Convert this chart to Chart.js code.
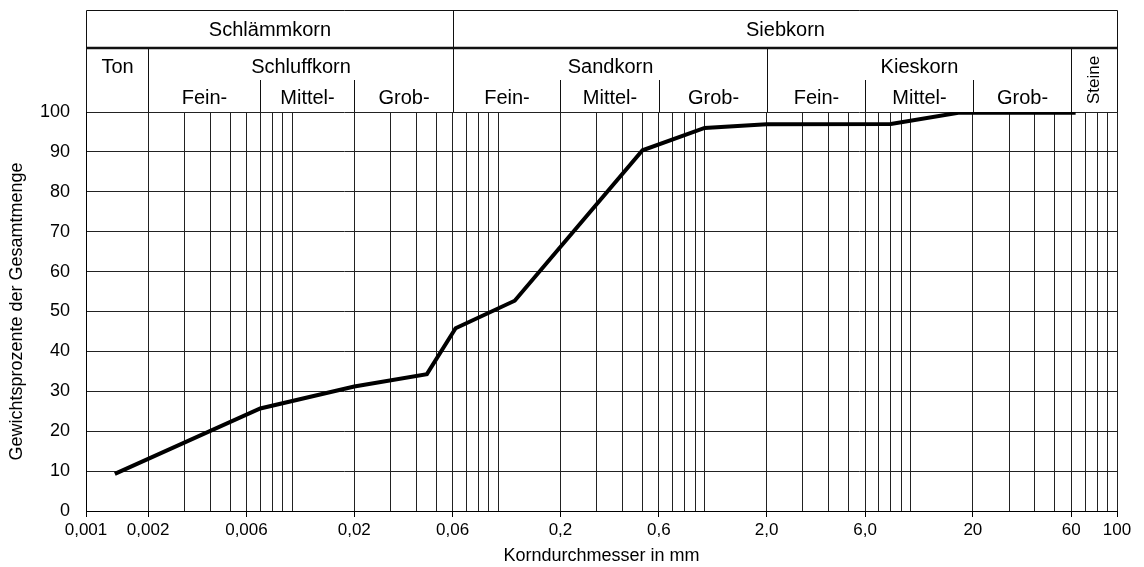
<!DOCTYPE html>
<html>
<head>
<meta charset="utf-8">
<script src="https://cdn.jsdelivr.net/npm/chart.js@4.4.1/dist/chart.umd.min.js"></script>
<style>
  html, body { margin: 0; padding: 0; background: #fff; }
  #wrap { width: 1144px; height: 567px; }
</style>
</head>
<body>
<div id="wrap"><canvas id="grainChart" width="1144" height="567"></canvas></div>
<script>
// Sieblinie: Korndurchmesser (mm) gegen Siebdurchgang (%)
const grainSize = [0.00138, 0.007, 0.02, 0.045, 0.062, 0.12, 0.5, 1.0, 2.0, 8.0, 17, 63];
const passing = [9.3, 25.7, 31.2, 34.3, 45.8, 52.7, 90.4, 96.0, 96.9, 97.0, 99.8, 99.8];

// labelled x ticks
const xTickValues = [0.001, 0.002, 0.006, 0.02, 0.06, 0.2, 0.6, 2, 6, 20, 60, 100];
const xTickLabels = ['0,001', '0,002', '0,006', '0,02', '0,06', '0,2', '0,6', '2,0', '6,0', '20', '60', '100'];

// vertical grid lines (log paper)
const xGridValues = [
    0.001, 0.002, 0.003, 0.004, 0.005, 0.006, 0.007, 0.008, 0.009,
    0.01, 0.02, 0.03, 0.04, 0.05, 0.06, 0.07, 0.08, 0.09,
    0.1, 0.2, 0.3, 0.4, 0.5, 0.6, 0.7, 0.8, 0.9,
    1, 2, 3, 4, 5, 6, 7, 8, 9,
    10, 20, 30, 40, 50, 60, 70, 80, 90, 100
];

// header table: top row, main soil types, sub-classes
const groupNames = ['Schlämmkorn', 'Siebkorn'];
const groupBounds = [0.001, 0.06, 100];
const typeNames = ['Ton', 'Schluffkorn', 'Sandkorn', 'Kieskorn', 'Steine'];
const typeBounds = [0.001, 0.002, 0.06, 2, 60, 100];
const subNames = ['Fein-', 'Mittel-', 'Grob-', 'Fein-', 'Mittel-', 'Grob-', 'Fein-', 'Mittel-', 'Grob-'];
const subBounds = [
    [0.002, 0.007], [0.007, 0.02], [0.02, 0.06],
    [0.06, 0.2], [0.2, 0.6], [0.6, 2],
    [2, 6], [6, 20], [20, 60]
];

const FONT = "'Liberation Sans', Arial, sans-serif";

function sameValue(a, b) {
    return Math.abs(Math.log10(a) - Math.log10(b)) < 1e-6;
}

function labelFor(value) {
    for (let i = 0; i < xTickValues.length; i++) {
        if (sameValue(value, xTickValues[i])) return xTickLabels[i];
    }
    return '';
}

const headerPlugin = {
    id: 'header',
    afterDraw(chart) {
        const ctx = chart.ctx;
        const xs = chart.scales.x;
        const area = chart.chartArea;
        const px = v => Math.round(xs.getPixelForValue(v)) + 0.5;
        const yTop = 10.5, yMid = 48, ySub = 80, yBot = area.top;
        const left = px(0.001), right = px(100);

        ctx.save();
        ctx.strokeStyle = '#111';
        ctx.lineWidth = 1;

        function vline(x, y1, y2) {
            ctx.beginPath();
            ctx.moveTo(x, y1);
            ctx.lineTo(x, y2);
            ctx.stroke();
        }

        // outer frame
        ctx.beginPath();
        ctx.moveTo(left, yTop);
        ctx.lineTo(right, yTop);
        ctx.stroke();
        vline(left, yTop, yBot);
        vline(right, yTop, yBot);

        // heavy rule under top row
        ctx.lineWidth = 2.5;
        ctx.beginPath();
        ctx.moveTo(left, yMid);
        ctx.lineTo(right, yMid);
        ctx.stroke();
        ctx.lineWidth = 1;

        // group divider goes through both rows
        vline(px(groupBounds[1]), yTop, yBot);
        // soil type dividers
        for (let i = 1; i < typeBounds.length - 1; i++) {
            if (typeBounds[i] === groupBounds[1]) continue;
            vline(px(typeBounds[i]), yMid, yBot);
        }
        // sub-class dividers
        subBounds.forEach(b => {
            if (!typeBounds.includes(b[1])) vline(px(b[1]), ySub, yBot);
        });

        ctx.fillStyle = '#000';
        ctx.textAlign = 'center';
        ctx.textBaseline = 'middle';
        ctx.font = '20px ' + FONT;

        groupNames.forEach((name, i) => {
            const cx = (px(groupBounds[i]) + px(groupBounds[i + 1])) / 2;
            ctx.fillText(name, cx, (yTop + yMid) / 2 + 1);
        });

        typeNames.forEach((name, i) => {
            const cx = (px(typeBounds[i]) + px(typeBounds[i + 1])) / 2;
            if (name === 'Steine') {
                ctx.save();
                ctx.translate(cx, (yMid + yBot) / 2);
                ctx.rotate(-Math.PI / 2);
                ctx.font = '17px ' + FONT;
                ctx.fillText(name, 0, 0);
                ctx.restore();
            } else {
                ctx.fillText(name, cx, 67);
            }
        });

        subNames.forEach((name, i) => {
            const cx = (px(subBounds[i][0]) + px(subBounds[i][1])) / 2;
            ctx.fillText(name, cx, 98);
        });

        ctx.restore();
    }
};

const points = grainSize.map((d, i) => ({ x: d, y: passing[i] }));

new Chart(document.getElementById('grainChart'), {
    type: 'line',
    data: {
        datasets: [{
            label: 'Sieblinie',
            data: points,
            borderColor: '#000',
            borderWidth: 4,
            pointRadius: 0,
            tension: 0,
            fill: false
        }]
    },
    options: {
        responsive: false,
        animation: false,
        layout: { padding: { top: 112, right: 27, left: 0, bottom: 0 } },
        plugins: {
            legend: { display: false },
            tooltip: { enabled: false }
        },
        scales: {
            x: {
                type: 'logarithmic',
                min: 0.001,
                max: 100,
                afterBuildTicks: scale => {
                    scale.ticks = xGridValues.map(v => ({ value: v }));
                },
                afterFit: scale => { scale.height = 56; },
                grid: {
                    color: '#222',
                    lineWidth: 1,
                    drawTicks: true,
                    tickLength: 6,
                    tickColor: c => (c.tick && labelFor(c.tick.value) ? '#000' : 'rgba(0,0,0,0)')
                },
                border: { color: '#000', width: 1 },
                ticks: {
                    autoSkip: false,
                    maxRotation: 0,
                    padding: 3,
                    color: '#000',
                    font: { family: FONT, size: 17 },
                    callback: value => labelFor(value)
                },
                title: {
                    display: true,
                    text: 'Korndurchmesser in mm',
                    color: '#000',
                    font: { family: FONT, size: 18 },
                    padding: { top: 0, bottom: 0 }
                }
            },
            y: {
                min: 0,
                max: 100,
                afterFit: scale => { scale.width = 86; },
                grid: {
                    color: '#222',
                    lineWidth: 1,
                    drawTicks: false
                },
                border: { color: '#000', width: 1 },
                ticks: {
                    stepSize: 10,
                    padding: 16,
                    color: '#000',
                    font: { family: FONT, size: 18 }
                },
                title: {
                    display: true,
                    text: 'Gewichtsprozente der Gesamtmenge',
                    color: '#000',
                    font: { family: FONT, size: 18 },
                    padding: { top: 6, bottom: 0 }
                }
            }
        }
    },
    plugins: [headerPlugin]
});
</script>
</body>
</html>
